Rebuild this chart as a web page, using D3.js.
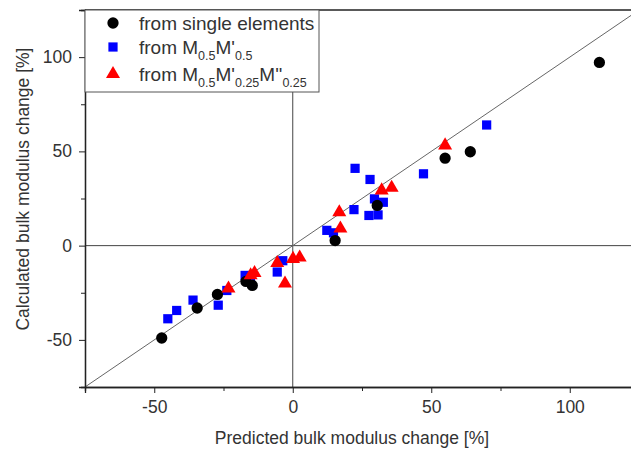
<!DOCTYPE html>
<html>
<head>
<meta charset="utf-8">
<script src="https://cdn.jsdelivr.net/npm/d3@7"></script>
<style>
  html, body { margin: 0; padding: 0; background: #fff; }
  svg { display: block; font-family: "Liberation Sans", Arial, sans-serif; }
</style>
</head>
<body>
<svg id="chart" width="631" height="450"></svg>
<script>
// Predicted (x) vs calculated (y) bulk modulus change, in %
const singleX = [-47.3, -34.5, -27.2, -16.9, -14.6, 15.3, 30.5, 55.0, 64.1, 110.7];
const singleY = [-49.0, -33.1, -25.9, -19.0, -21.1, 2.7, 21.3, 46.4, 49.8, 97.2];

const binaryX = [-45.1, -41.9, -36.0, -26.9, -23.8, -17.2, -15.3, -5.6, -3.6, 12.3, 14.7, 22.1, 22.5, 27.9, 29.5, 32.7, 27.5, 30.8, 47.2, 70.0];
const binaryY = [-38.8, -34.4, -28.9, -31.6, -23.8, -15.8, -17.5, -14.0, -8.0, 8.1, 6.8, 19.1, 41.0, 35.1, 24.8, 23.0, 16.0, 16.3, 38.1, 64.0];

const ternaryX = [-23.2, -15.2, -13.8, -5.6, -2.8, 0.1, 2.5, 16.8, 17.2, 32.1, 35.7, 55.0];
const ternaryY = [-22.2, -15.2, -14.0, -8.7, -19.6, -6.5, -5.8, 18.2, 9.6, 29.8, 31.2, 53.7];

const xDomain = [-75, 125];
const yDomain = [-75, 125];
const majorTicks = [-50, 0, 50, 100];
const minorTicks = [-75, -25, 25, 75, 125];

const svg = d3.select("#chart");
const margin = { left: 85, top: 10, right: -8, bottom: 63 };
const W = 631, H = 450;
const x = d3.scaleLinear().domain(xDomain).range([margin.left, W - margin.right]);
const y = d3.scaleLinear().domain(yDomain).range([H - margin.bottom, margin.top]);

const axisColor = "#222";
const textColor = "#333";
const tickLabel = d => String(d);   // plain hyphen for negatives

svg.append("defs").append("clipPath").attr("id", "plot")
  .append("rect")
  .attr("x", x(xDomain[0])).attr("y", y(yDomain[1]))
  .attr("width", x(xDomain[1]) - x(xDomain[0]))
  .attr("height", y(yDomain[0]) - y(yDomain[1]));

const plot = svg.append("g").attr("clip-path", "url(#plot)");

// reference lines: zero crossings and the y = x diagonal
plot.append("line")
  .attr("x1", x(xDomain[0])).attr("x2", x(xDomain[1]))
  .attr("y1", y(0)).attr("y2", y(0))
  .attr("stroke", "#444").attr("stroke-width", 1);
plot.append("line")
  .attr("x1", x(0)).attr("x2", x(0))
  .attr("y1", y(yDomain[0])).attr("y2", y(yDomain[1]))
  .attr("stroke", "#444").attr("stroke-width", 1);
plot.append("line")
  .attr("x1", x(-75)).attr("y1", y(-75))
  .attr("x2", x(125)).attr("y2", y(125))
  .attr("stroke", "#666").attr("stroke-width", 1);

// markers
const circleSym = d3.symbol().type(d3.symbolCircle).size(100);
const squareSym = d3.symbol().type(d3.symbolSquare).size(85);
const triSym = d3.symbol().type(d3.symbolTriangle).size(85);

const single = d3.zip(singleX, singleY);
const binary = d3.zip(binaryX, binaryY);
const ternary = d3.zip(ternaryX, ternaryY);

plot.selectAll(".bin").data(binary).join("path")
  .attr("class", "bin")
  .attr("d", squareSym)
  .attr("transform", d => `translate(${x(d[0])},${y(d[1])})`)
  .attr("fill", "#0000ff");

plot.selectAll(".sgl").data(single).join("path")
  .attr("class", "sgl")
  .attr("d", circleSym)
  .attr("transform", d => `translate(${x(d[0])},${y(d[1])})`)
  .attr("fill", "#000");

plot.selectAll(".ter").data(ternary).join("path")
  .attr("class", "ter")
  .attr("d", triSym)
  .attr("transform", d => `translate(${x(d[0])},${y(d[1]) + 1})`)
  .attr("fill", "#ff0000");

// axes
const xAxis = svg.append("g").attr("transform", `translate(0,${y(yDomain[0])})`);
xAxis.call(d3.axisBottom(x).tickValues(majorTicks).tickSize(6).tickPadding(8).tickFormat(tickLabel));
xAxis.append("g").call(d3.axisBottom(x).tickValues(minorTicks).tickSize(4).tickFormat(""));
const yAxis = svg.append("g").attr("transform", `translate(${x(xDomain[0])},0)`);
yAxis.call(d3.axisLeft(y).tickValues(majorTicks).tickSize(6).tickPadding(7).tickFormat(tickLabel));
yAxis.append("g").call(d3.axisLeft(y).tickValues(minorTicks).tickSize(4).tickFormat(""));

svg.selectAll(".domain").attr("stroke", axisColor).attr("stroke-width", 1.3);
svg.selectAll(".tick line").attr("stroke", axisColor);
svg.selectAll(".tick text")
  .attr("fill", textColor)
  .style("font-size", "17.5px");

// top frame line
svg.append("line")
  .attr("x1", x(xDomain[0])).attr("x2", W)
  .attr("y1", y(yDomain[1])).attr("y2", y(yDomain[1]))
  .attr("stroke", axisColor).attr("stroke-width", 1.3);

// axis titles
svg.append("text")
  .attr("x", 352).attr("y", 444)
  .attr("text-anchor", "middle")
  .attr("fill", textColor)
  .style("font-size", "17.5px")
  .text("Predicted bulk modulus change [%]");
svg.append("text")
  .attr("transform", `translate(29,${y(30)}) rotate(-90)`)
  .attr("text-anchor", "middle")
  .attr("fill", textColor)
  .style("font-size", "17.5px")
  .text("Calculated bulk modulus change [%]");

// legend
const legend = svg.append("g");
legend.append("rect")
  .attr("x", x(xDomain[0])).attr("y", y(yDomain[1]))
  .attr("width", 234).attr("height", 82)
  .attr("fill", "#fff").attr("stroke", "#555").attr("stroke-width", 1);

const legendItems = [
  { sym: circleSym, color: "#000", parts: [["from single elements", false]] },
  { sym: squareSym, color: "#0000ff", parts: [["from M", false], ["0.5", true], ["M'", false], ["0.5", true]] },
  { sym: triSym, color: "#ff0000", parts: [["from M", false], ["0.5", true], ["M'", false], ["0.25", true], ["M''", false], ["0.25", true]] }
];
const rowY = [23, 47, 74];
legendItems.forEach((item, i) => {
  legend.append("path")
    .attr("d", item.sym)
    .attr("transform", `translate(113,${rowY[i]})`)
    .attr("fill", item.color);
  const t = legend.append("text")
    .attr("x", 139).attr("y", rowY[i] + 7)
    .attr("fill", textColor)
    .style("font-size", "19px");
  item.parts.forEach(([s, sub]) => {
    const ts = t.append("tspan").text(s);
    if (sub) ts.style("font-size", "12.5px").attr("dy", 6);
    else ts.attr("dy", t.selectAll("tspan").size() > 1 ? -6 : 0);
  });
});
</script>
</body>
</html>
